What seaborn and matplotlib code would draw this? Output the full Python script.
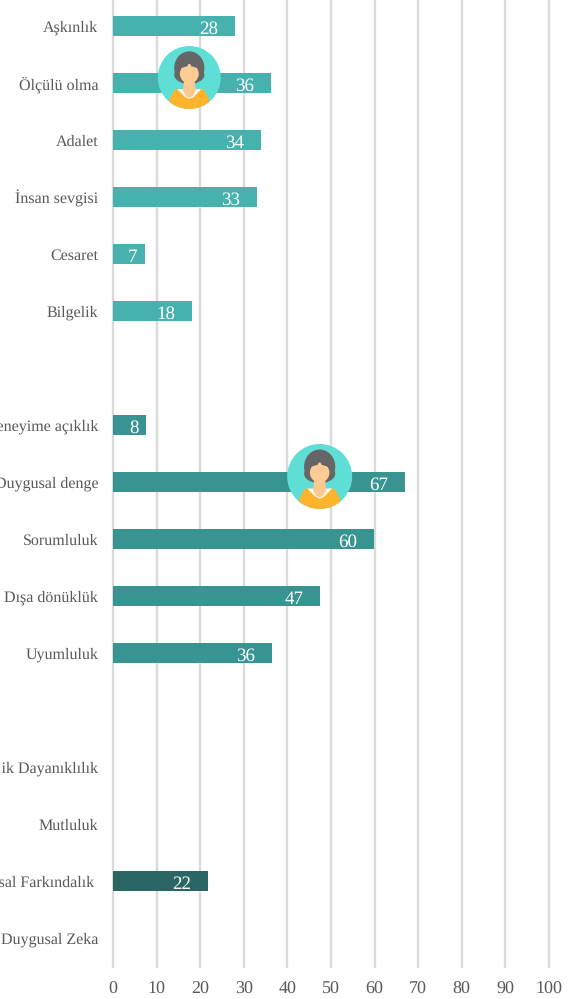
import matplotlib
matplotlib.use("Agg")
import matplotlib.pyplot as plt
from matplotlib.patches import Circle, Ellipse, Polygon
from matplotlib.transforms import Affine2D
import numpy as np
import pandas as pd
import seaborn as sns

categories = ["Aşkınlık", "Ölçülü olma", "Adalet", "İnsan sevgisi", "Cesaret", "Bilgelik", " ",
              "Deneyime açıklık", "Duygusal denge", "Sorumluluk", "Dışa dönüklük", "Uyumluluk", "  ",
              "Psikolojik Dayanıklılık", "Mutluluk", "Duygusal Farkındalık ", "Duygusal Zeka"]
values = [28, 36.2, 33.9, 33, 7.3, 18.1, np.nan,
          7.6, 67, 59.9, 47.4, 36.4, np.nan,
          np.nan, np.nan, 21.8, np.nan]
groups = ["a"] * 7 + ["b"] * 6 + ["c"] * 4
palette = {"a": "#46B1AD", "b": "#389491", "c": "#296664"}
xticks = list(range(0, 101, 10))
avatars = [(17.5, 1, 31.5), (47.4, 8, 32.5)]

sns.set_theme(style="white")
plt.rcParams["font.family"] = ["Liberation Serif", "DejaVu Serif"]
plt.rcParams["text.hinting"] = "no_hinting"
plt.rcParams["text.hinting_factor"] = 1
plt.rcParams["text.kerning_factor"] = 6

W, H = 577, 999
fig = plt.figure(figsize=(W / 100, H / 100), dpi=100, facecolor="white")
ax = fig.add_axes([113 / W, 32.5 / H, 436 / W, 969 / H])
df = pd.DataFrame({"cat": categories, "val": values, "grp": groups})
sns.barplot(data=df, y="cat", x="val", hue="grp", order=categories, palette=palette,
            dodge=False, width=0.36, legend=False, saturation=1, linewidth=0, edgecolor="none",
            ax=ax, zorder=3)
ax.set_xlim(0, 100)
ax.set_ylim(16.5, -0.5)
ax.set_xticks(xticks)
ax.set_xlabel("")
ax.set_ylabel("")
for s in ax.spines.values():
    s.set_visible(False)
ax.grid(axis="x", color="#DADADA", lw=1.7, zorder=0)
for g in ax.get_xgridlines():
    g.set_clip_on(False)
ax.set_axisbelow(True)
ax.tick_params(axis="y", length=0, pad=10.6, labelsize=11.8, labelcolor="#595959")
ax.tick_params(axis="x", length=0, pad=10.5, labelsize=13, labelcolor="#595959")

for i, v in enumerate(values):
    if np.isnan(v):
        continue
    off = -12.5 if v < 10 else -26
    ax.annotate(f"{v:.0f}", (v, i), xytext=(off * 0.72, -0.7), textcoords="offset points",
                ha="center", va="center_baseline", color="white", fontsize=13.5, zorder=5)

HAIR = "#666666"
SKIN = "#FDCB94"


def avatar(xv, row, r):
    fig.canvas.draw()
    cx, cy = ax.transData.transform((xv, row))
    cy += 5.5
    tr = Affine2D().scale(r).translate(cx, cy)
    bg = Circle((0, 0), 1, fc="#5FDED6", ec="none", zorder=6, transform=tr)
    fig.add_artist(bg)
    kw = dict(transform=tr, ec="none")
    parts = [
        Ellipse((0, 0.30), 0.96, 1.06, fc=HAIR, zorder=7, **kw),
        Ellipse((0, 0.08), 0.96, 0.56, fc=HAIR, zorder=7, **kw),
        Polygon([(-0.68, -1.05), (-0.62, -0.66), (-0.46, -0.38), (0.46, -0.38), (0.62, -0.66), (0.68, -1.05)],
                fc="#FDB32B", zorder=8, **kw),
        Polygon([(-0.38, -0.37), (0.38, -0.37), (0.14, -0.62), (0, -0.68), (-0.14, -0.62)],
                fc="#FFF8EE", zorder=9, **kw),
        Polygon([(-0.17, -0.1), (0.17, -0.1), (0.2, -0.42), (0.1, -0.6), (0, -0.64), (-0.1, -0.6), (-0.2, -0.42)],
                fc="#FBC88E", zorder=10, **kw),
        Ellipse((0, 0.12), 0.6, 0.62, fc=SKIN, zorder=11, **kw),
        Polygon([(-0.33, 0.14), (-0.26, 0.3), (-0.06, 0.36), (0, 0.5), (-0.33, 0.5)], fc=HAIR, zorder=12, **kw),
        Polygon([(0.33, 0.14), (0.26, 0.3), (0.06, 0.36), (0, 0.5), (0.33, 0.5)], fc=HAIR, zorder=12, **kw),
    ]
    for p in parts:
        fig.add_artist(p)
        p.set_clip_path(bg)


for xv, row, r in avatars:
    avatar(xv, row, r)

fig.savefig("out.png", dpi=100, facecolor="white")
